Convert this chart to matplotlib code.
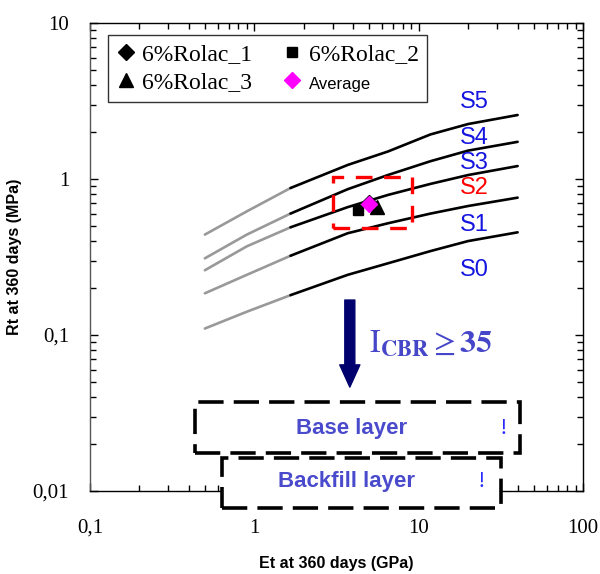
import matplotlib
matplotlib.use('Agg')
import matplotlib.pyplot as plt
import numpy as np
from matplotlib.patches import Rectangle
from matplotlib.ticker import FixedLocator, LogLocator, FuncFormatter, NullFormatter

plt.rcParams['font.family'] = ['Liberation Serif', 'DejaVu Serif']
plt.rcParams['mathtext.fontset'] = 'stix'

# Courbes limites des classes S0..S5 (Et en GPa, Rt en MPa)
et = [0.5, 0.9, 1.66, 3.7, 6.5, 11.8, 20, 40]
courbe_1 = [0.44, 0.62, 0.875, 1.23, 1.50, 1.93, 2.25, 2.57]
courbe_2 = [0.31, 0.44, 0.60, 0.86, 1.06, 1.30, 1.52, 1.73]
courbe_3 = [0.26, 0.37, 0.49, 0.66, 0.79, 0.93, 1.06, 1.21]
courbe_4 = [0.185, 0.243, 0.322, 0.449, 0.52, 0.600, 0.671, 0.759]
courbe_5 = [0.110, 0.141, 0.180, 0.243, 0.288, 0.345, 0.400, 0.455]
courbes = [courbe_1, courbe_2, courbe_3, courbe_4, courbe_5]
i_coupure = 2  # les points avant 1.66 GPa sont en gris

# Mesures
noms = ['6%Rolac_1', '6%Rolac_2', '6%Rolac_3', 'Average']
et_mesures = [5.0, 4.3, 5.6, 4.98]
rt_mesures = [0.70, 0.632, 0.664, 0.689]
marqueurs = ['D', 's', '^', 'D']
couleurs = ['black', 'black', 'black', 'magenta']
tailles = [8, 7.5, 10, 8.5]

classes = ['S5', 'S4', 'S3', 'S2', 'S1', 'S0']
classes_couleurs = ['#1515e0', '#1515e0', '#1515e0', '#ff0000', '#1515e0', '#1515e0']
classes_y = [0.831, 0.754, 0.701, 0.647, 0.568, 0.472]

fig = plt.figure(figsize=(6, 5.74), dpi=100)
ax = fig.add_axes([0.15, 0.1446, 0.8217, 0.8154])
ax.set_xscale('log')
ax.set_yscale('log')
ax.set_xlim(0.1, 100)
ax.set_ylim(0.01, 10)

for c in courbes:
    ax.plot(et[:i_coupure + 1], c[:i_coupure + 1], color='#999999', lw=1.9, solid_capstyle='round')
    ax.plot(et[i_coupure:], c[i_coupure:], color='black', lw=1.9, solid_capstyle='round')

handles = []
for i in range(len(noms)):
    h, = ax.plot(et_mesures[i], rt_mesures[i], ls='none', marker=marqueurs[i],
                 color=couleurs[i], markersize=tailles[i], zorder=5 + (i == 3))
    handles.append(h)

# etiquettes de format 0,1
def virgule(v, pos):
    if v >= 1:
        return '%d' % v
    return ('%g' % v).replace('.', ',')

for axe in [ax.xaxis, ax.yaxis]:
    axe.set_major_locator(FixedLocator([0.01, 0.1, 1, 10, 100]))
    axe.set_major_formatter(FuncFormatter(virgule))
    axe.set_minor_locator(LogLocator(base=10, subs=np.arange(2, 10)))
    axe.set_minor_formatter(NullFormatter())
ax.tick_params(which='both', direction='in', top=True, right=True, labelsize=15, width=1)
ax.tick_params(which='major', length=6)
ax.tick_params(which='minor', length=4.5)
ax.tick_params(axis='x', pad=20)
ax.tick_params(axis='y', pad=15)
for s in ax.spines.values():
    s.set_linewidth(1)
ax.spines['left'].set_color('#555555')

ax.set_xlabel('Et at 360 days (GPa)', family='Liberation Sans', weight='bold', fontsize=11.5, labelpad=13)
ax.set_ylabel('Rt at 360 days (MPa)', family='Liberation Sans', weight='bold', fontsize=11.5, labelpad=8)

# ordre en colonnes : 1, 3 | 2, Average
ordre = [0, 2, 1, 3]
leg = ax.legend([handles[i] for i in ordre], [noms[i] for i in ordre], ncol=2, loc='upper left',
                bbox_to_anchor=(0.0365, 0.974), borderaxespad=0, fontsize=17, handlelength=0.8,
                handletextpad=0.3, columnspacing=1.3, labelspacing=0.3, frameon=True,
                fancybox=False, borderpad=0.35)
leg.get_frame().set_edgecolor('black')
leg.get_frame().set_linewidth(1)
leg.get_texts()[3].set_fontfamily('Liberation Sans')
leg.get_texts()[3].set_fontsize(12)

# classes
for lab, col, y in zip(classes, classes_couleurs, classes_y):
    ax.text(0.779, y, lab, transform=ax.transAxes, color=col, fontsize=17,
            family='Liberation Sans', ha='center', va='center')

# cadre rouge autour des mesures
ax.add_patch(Rectangle((0.493, 0.561), 0.1595, 0.1106, transform=ax.transAxes, fill=False,
                       edgecolor='red', lw=2.4, ls=(0, (5, 3.5)), zorder=4))

# fleche et critere
ax.annotate('', xy=(0.527, 0.222), xytext=(0.527, 0.408), xycoords='axes fraction',
            arrowprops=dict(arrowstyle='simple,head_length=1.6,head_width=1.45,tail_width=0.72',
                            mutation_scale=10, color='#00006e', shrinkA=0, shrinkB=0))
ax.text(0.566, 0.297, r'$\mathrm{I}_{\mathbf{CBR}}\geq\mathbf{35}$', transform=ax.transAxes,
        color='#4646c8', fontsize=23, ha='left', va='baseline')

# couches (fond blanc qui masque l'axe)
ax.add_patch(Rectangle((0.213, 0.081), 0.659, 0.110, transform=ax.transAxes, facecolor='white',
                       edgecolor='black', lw=2.6, ls=(0, (7, 2.8)), clip_on=False, zorder=4))
ax.add_patch(Rectangle((0.267, -0.036), 0.566, 0.1065, transform=ax.transAxes, facecolor='white',
                       edgecolor='black', lw=2.6, ls=(0, (7, 2.8)), clip_on=False, zorder=4))
ax.text(0.531, 0.1346, 'Base layer', transform=ax.transAxes, color='#4a4acc', fontsize=16,
        family='Liberation Sans', weight='bold', ha='center', va='center', zorder=6)
ax.text(0.838, 0.1346, '!', transform=ax.transAxes, color='#2a2aff', fontsize=17, ha='center',
        va='center', zorder=6)
ax.text(0.521, 0.0199, 'Backfill layer', transform=ax.transAxes, color='#4a4acc', fontsize=16,
        family='Liberation Sans', weight='bold', ha='center', va='center', zorder=6)
ax.text(0.7945, 0.0199, '!', transform=ax.transAxes, color='#2a2aff', fontsize=17, ha='center',
        va='center', zorder=6)

fig.savefig('out.png', dpi=100)
